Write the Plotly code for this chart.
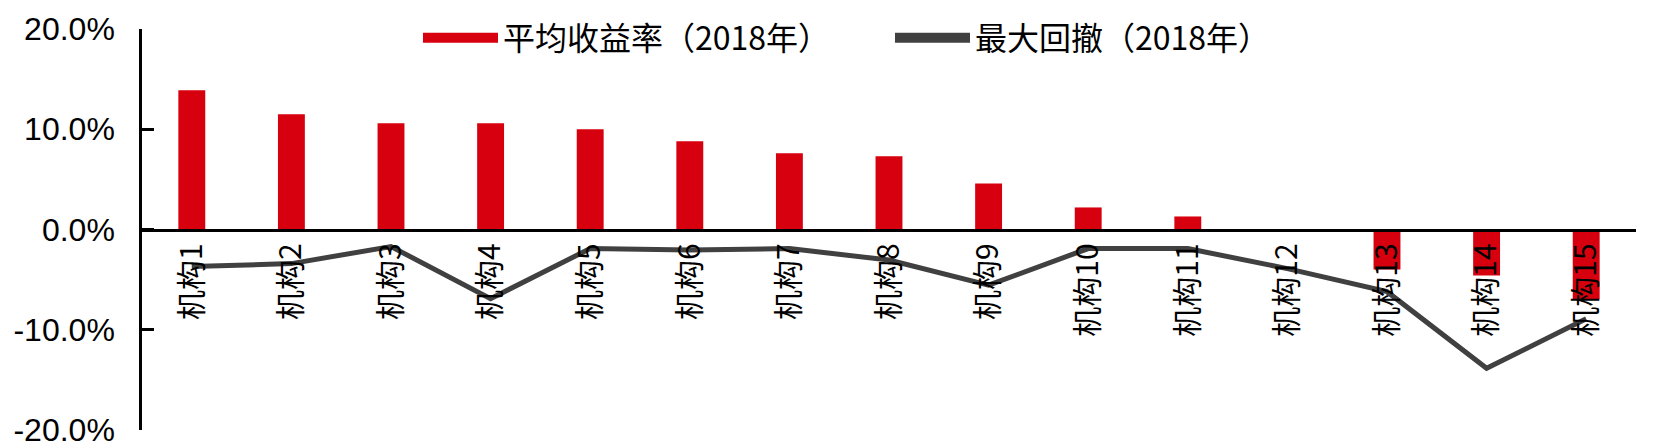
import plotly.graph_objects as go

categories = ["机构1", "机构2", "机构3", "机构4", "机构5", "机构6", "机构7", "机构8",
              "机构9", "机构10", "机构11", "机构12", "机构13", "机构14", "机构15"]
avg_return = [13.9, 11.5, 10.6, 10.6, 10.0, 8.8, 7.6, 7.3, 4.6, 2.2, 1.3, 0.0, -4.0, -4.6, -6.95]
max_drawdown = [-3.7, -3.4, -1.7, -6.9, -1.9, -2.05, -1.9, -3.05, -5.55, -1.9, -1.9, -3.9, -6.2, -13.85, -8.9]
y_ticks = [-20, -10, 0, 10, 20]
y_tick_text = ["-20.0%", "-10.0%", "0.0%", "10.0%", "20.0%"]

bar_color = "#D7000F"
line_color = "#404040"

fig = go.Figure()
fig.add_trace(go.Bar(
    x=categories, y=avg_return, name="平均收益率（2018年）",
    marker=dict(color=bar_color, line=dict(width=0)),
    showlegend=False,
))
fig.add_trace(go.Scatter(
    x=categories, y=max_drawdown, name="最大回撤（2018年）",
    mode="lines", line=dict(color=line_color, width=5),
    showlegend=False,
))
# legend-only entries (wide swatches like the reference)
fig.add_trace(go.Scatter(
    x=[None], y=[None], name="平均收益率（2018年）",
    mode="lines", line=dict(color=bar_color, width=12),
))
fig.add_trace(go.Scatter(
    x=[None], y=[None], name="最大回撤（2018年）",
    mode="lines", line=dict(color=line_color, width=10),
))

fig.update_layout(
    width=1665, height=447,
    margin=dict(l=134, r=37, t=21, b=25, autoexpand=False),
    paper_bgcolor="white", plot_bgcolor="white",
    bargap=0.73,
    font=dict(family="Liberation Sans, Noto Sans CJK SC", color="black"),
    showlegend=True,
    legend=dict(
        orientation="h", xref="container", yref="container",
        x=410 / 1665, y=1 - 30 / 447, xanchor="left", yanchor="middle",
        font=dict(family="Noto Sans CJK SC", size=32, color="black"),
        entrywidth=382, entrywidthmode="pixels",
        itemwidth=75,
        bgcolor="rgba(0,0,0,0)",
    ),
    xaxis=dict(
        type="category", range=[-0.5, 14.5],
        anchor="free", position=0.5,
        showline=True, linecolor="black", linewidth=2.7,
        ticks="", showgrid=False, zeroline=False,
        tickangle=-90,
        tickfont=dict(family="Noto Sans CJK SC", size=30, color="black"),
    ),
    yaxis=dict(
        range=[-20, 20], tickvals=y_ticks, ticktext=y_tick_text,
        showline=True, linecolor="black", linewidth=2.5,
        ticks="inside", ticklen=12, tickwidth=2.5, tickcolor="black",
        showgrid=False, zeroline=False,
        ticklabelstandoff=18,
        tickfont=dict(family="Liberation Sans", size=32, color="black"),
    ),
)

fig.write_html("out.html")
